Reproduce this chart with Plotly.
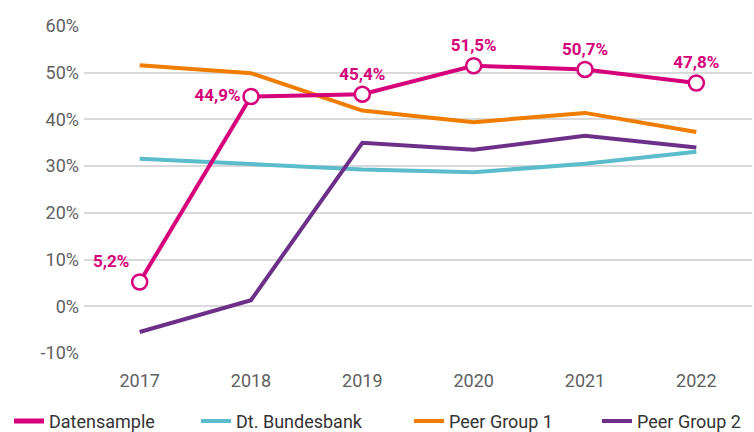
import plotly.graph_objs as go

years = ['2017', '2018', '2019', '2020', '2021', '2022']
datensample = [5.2, 44.9, 45.4, 51.5, 50.7, 47.8]
bundesbank = [31.6, 30.5, 29.3, 28.7, 30.5, 33.1]
peer_group_1 = [51.6, 49.9, 41.9, 39.4, 41.4, 37.3]
peer_group_2 = [-5.5, 1.3, 35.0, 33.5, 36.5, 34.0]

y_ticks = [-10, 0, 10, 20, 30, 40, 50, 60]
y_tick_text = ['-10%', '0%', '10%', '20%', '30%', '40%', '50%', '60%']

label_pos = ['top left', 'middle left', 'top center', 'top center', 'top center', 'top center']

font_name = 'Roboto, sans-serif'
magenta = '#d6007a'

fig = go.Figure()

# data line with circles and labels, legend shows only a line
fig.add_trace(go.Scatter(x=years, y=datensample, name='Datensample',
                         mode='lines+markers+text', showlegend=False,
                         line=dict(color=magenta, width=4),
                         marker=dict(size=15, color='white',
                                     line=dict(color=magenta, width=2.5)),
                         texttemplate='%{y:.1f}%', textposition=label_pos,
                         textfont=dict(color=magenta, size=17, family=font_name,
                                       weight='bold'),
                         zorder=4))
fig.add_trace(go.Scatter(x=[None], y=[None], name='Datensample', mode='lines',
                         line=dict(color=magenta, width=5), legend='legend'))

fig.add_trace(go.Scatter(x=years, y=bundesbank, name='Dt. Bundesbank',
                         mode='lines', line=dict(color='#5bbccb', width=4),
                         zorder=1, legend='legend2'))

fig.add_trace(go.Scatter(x=years, y=peer_group_1, name='Peer Group 1',
                         mode='lines', line=dict(color='#f07d00', width=4),
                         zorder=2, legend='legend3'))

fig.add_trace(go.Scatter(x=years, y=peer_group_2, name='Peer Group 2',
                         mode='lines', line=dict(color='#6d3089', width=4),
                         zorder=3, legend='legend4'))


def legend_at(x_px):
    return dict(orientation='h', xref='container', x=x_px / 754,
                xanchor='left', yref='container', y=0.025, yanchor='middle',
                bgcolor='rgba(0,0,0,0)',
                font=dict(color='#333333', size=18))


fig.update_layout(width=754, height=432,
                  margin=dict(l=84, r=2, t=26, b=79, autoexpand=False),
                  plot_bgcolor='white', paper_bgcolor='white',
                  separators=',.',
                  font=dict(family=font_name, size=18, color='#606060'),
                  legend=legend_at(9),
                  legend2=legend_at(196),
                  legend3=legend_at(409),
                  legend4=legend_at(597),
                  xaxis=dict(type='category', range=[-0.5, 5.5],
                             showgrid=False, showline=False, ticks='',
                             automargin=False, ticklabelstandoff=15),
                  yaxis=dict(range=[-10, 60], tickvals=y_ticks,
                             ticktext=y_tick_text, automargin=False,
                             ticklabelstandoff=4,
                             gridcolor='#d9d9d9', gridwidth=1.5,
                             zeroline=False, showline=False, ticks=''))

# drop the default page margin so the figure fills the window
fig.write_html('out.html', config={'displayModeBar': False},
               post_script="document.body.style.margin='0';")
